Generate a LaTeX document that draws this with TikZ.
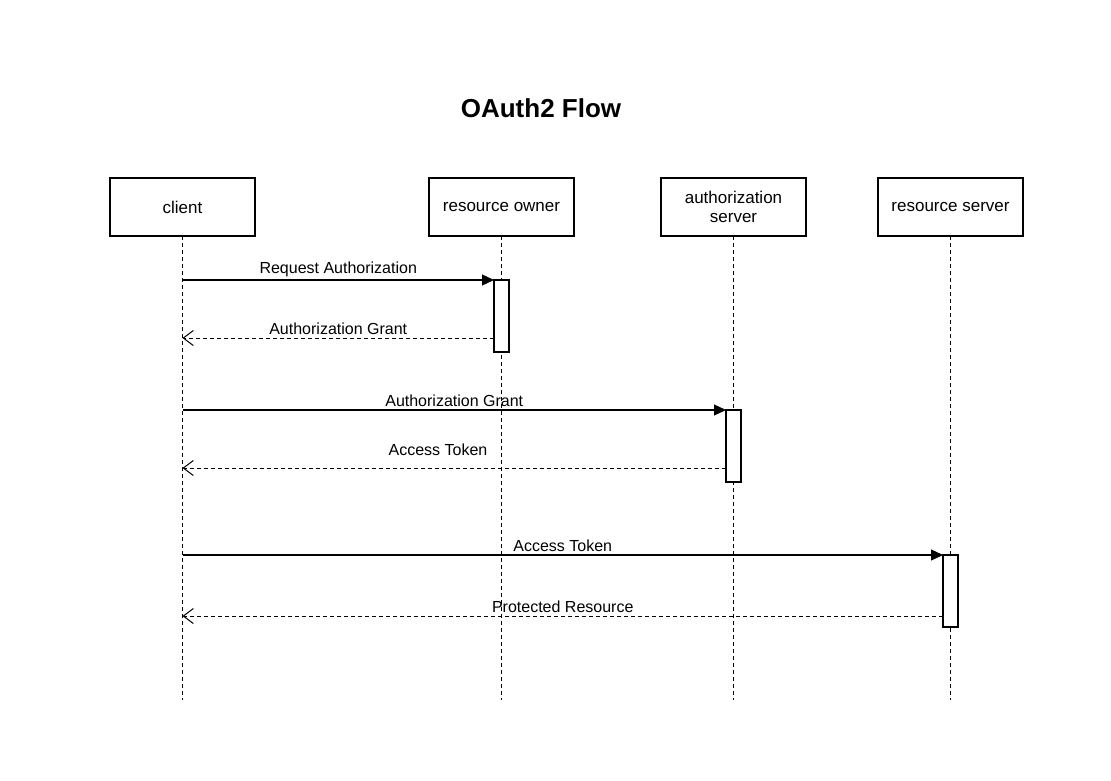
\documentclass[tikz,border=0pt]{standalone}
\usepackage{fontspec}
\setmainfont{Liberation Sans}
\usetikzlibrary{arrows.meta,positioning}

\begin{document}
\begin{tikzpicture}[x=1pt,y=-1pt,
    actor/.style={draw,line width=1.2pt,minimum width=145pt,minimum height=58pt,outer sep=0pt,
                  align=center,font=\fontsize{17}{20}\selectfont},
    life/.style={line width=1pt,dash pattern=on 4pt off 3pt},
    act/.style={draw,line width=1.2pt,fill=white,minimum width=15pt,minimum height=72pt,
                inner sep=0pt,outer sep=0pt,anchor=north},
    msg/.style={line width=1.2pt,-{Triangle[length=12pt,width=11pt]}},
    ret/.style={line width=1pt,dash pattern=on 4pt off 3pt,
                -{Straight Barb[length=10pt,width=15pt,line width=1pt]}},
    lbl/.style={font=\fontsize{16}{18}\selectfont,inner sep=3pt,above}]
    \useasboundingbox (0,0) rectangle (1111,781);
    \node[font=\fontsize{26}{30}\bfseries\selectfont] (title) at (541,108) {OAuth2 Flow};
    % participants
    \node[actor] (client) at (182.5,207) {client};
    \node[actor,right=174pt of client] (owner) {resource owner};
    \node[actor,right=87pt of owner] (authsrv) {authorization\\[-1pt]server};
    \node[actor,right=72pt of authsrv] (ressrv) {resource server};
    \foreach \p in {client,owner,authsrv,ressrv}
      \draw[life] (\p.south) -- (\p.south |- 0,700);
    % activations
    \node[act] (grant) at (owner.south |- 0,280) {};
    \node[act] (token) at (authsrv.south |- 0,410) {};
    \node[act] (resource) at (ressrv.south |- 0,555) {};
    \coordinate (grant-back) at (grant.west |- 0,338);
    \coordinate (token-back) at (token.west |- 0,468);
    \coordinate (resource-back) at (resource.west |- 0,616);
    % messages
    \draw[msg] (client.south |- grant.north) -- node[lbl] {Request Authorization} (grant.north west);
    \draw[ret] (grant-back) -- node[lbl] {Authorization Grant} (client.south |- grant-back);
    \draw[msg] (client.south |- token.north) -- node[lbl] {Authorization Grant} (token.north west);
    \draw[ret] (token-back) -- node[lbl,pos=.53,yshift=9pt] {Access Token} (client.south |- token-back);
    \draw[msg] (client.south |- resource.north) -- node[lbl] {Access Token} (resource.north west);
    \draw[ret] (resource-back) -- node[lbl] {Protected Resource} (client.south |- resource-back);
\end{tikzpicture}
\end{document}
